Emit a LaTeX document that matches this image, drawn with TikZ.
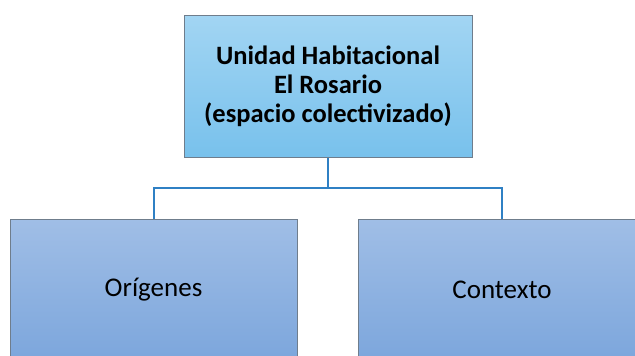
\documentclass[tikz,border=0pt]{standalone}
\usepackage{fontspec}
\setmainfont{Carlito}
\definecolor{topA}{HTML}{A2D5F3}
\definecolor{topB}{HTML}{78C1EC}
\definecolor{botA}{HTML}{A0BEE6}
\definecolor{botB}{HTML}{7CA6DC}
\definecolor{edge}{HTML}{6F7D8C}
\definecolor{conn}{HTML}{2F80C4}
\begin{document}
\begin{tikzpicture}[x=1pt,y=-1pt,
  topbox/.style={draw=edge, line width=1pt, top color=topA, bottom color=topB, minimum width=288pt, minimum height=142pt, align=center, font=\fontsize{26.5}{29}\selectfont\bfseries, inner sep=0pt},
  subbox/.style={draw=edge, line width=1pt, top color=botA, bottom color=botB, minimum width=287pt, minimum height=142pt, align=center, font=\fontsize{27}{30}\selectfont, inner sep=0pt},
  link/.style={draw=conn, line width=2pt}]
\useasboundingbox (0,0) rectangle (635,356);
\clip (0,0) rectangle (635,356);
\node[topbox] (root) at (328,86) {Unidad Habitacional\\El Rosario\\(espacio colectivizado)};
\node[subbox] (orig) at (153.5,290) {Orígenes};
\node[subbox] (ctx) at (502,290) {Contexto};
\coordinate (mid) at (328,188);
\draw[link] (root.south) -- (mid) -| (orig.north);
\draw[link] (mid) -| (ctx.north);
\end{tikzpicture}
\end{document}
